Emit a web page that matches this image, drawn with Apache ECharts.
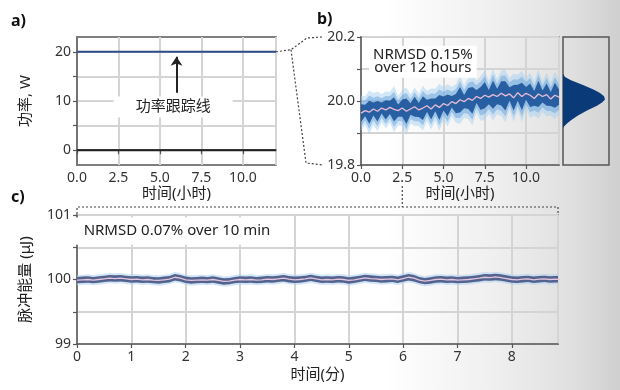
<!DOCTYPE html>
<html><head><meta charset="utf-8">
<script src="https://cdn.jsdelivr.net/npm/echarts@6/dist/echarts.min.js"></script>
<style>
html,body{margin:0;padding:0;background:#fff;}
#c{width:620px;height:390px;background:linear-gradient(to right,#ffffff 0%,#ffffff 62%,#efefef 80%,#e0e0e0 92%,#cfcfcf 100%);}
</style></head><body><div id="c"></div>
<script>
const FONT = "'Noto Sans','Noto Sans CJK SC',sans-serif";

// ---------- panel a ----------
const aTime = [0, 12];
const aPower = [20, 20];
const aBaseline = [0, 0];
const aYLabels = [0, 10, 20];
const aYTicks = [0, 5, 10, 15, 20];

// ---------- panel b (0.25 h sampling) ----------
const bStep = 0.25;
const bMean = [19.962,19.970,19.965,19.975,19.968,19.978,19.972,19.980,19.974,19.970,
  19.978,19.968,19.975,19.982,19.972,19.978,19.985,19.975,19.988,19.980,
  19.992,19.986,19.998,19.992,20.004,19.998,20.008,20.002,20.014,20.008,
  20.018,20.012,20.020,20.014,20.024,20.016,20.022,20.010,20.026,20.014,
  20.024,20.018,20.008,20.022,20.014,20.020,20.006,20.018,20.012];
const bDark = [0.028,0.018,0.036,0.02,0.032,0.017,0.03,0.021,0.038,0.019,
  0.027,0.04,0.018,0.031,0.022,0.037,0.019,0.033,0.02,0.039,
  0.022,0.034,0.018,0.03,0.04,0.021,0.033,0.042,0.02,0.036,
  0.041,0.022,0.044,0.024,0.038,0.046,0.021,0.04,0.025,0.043,
  0.02,0.037,0.023,0.041,0.019,0.035,0.022,0.039,0.024];
const bLight = [0.055,0.045,0.068,0.05,0.062,0.044,0.058,0.048,0.072,0.046,
  0.056,0.074,0.045,0.06,0.05,0.07,0.047,0.064,0.05,0.073,
  0.052,0.066,0.046,0.06,0.075,0.05,0.064,0.078,0.05,0.07,
  0.077,0.052,0.08,0.055,0.072,0.082,0.05,0.076,0.056,0.08,
  0.05,0.07,0.053,0.077,0.048,0.068,0.052,0.074,0.055];
const bYLabels = [19.8, 20.0, 20.2];
// histogram of panel b
const histValue = [20.085,20.075,20.065,20.05,20.035,20.025,20.015,20.005,19.995,19.985,19.97,19.955,19.94,19.93,19.92,19.915];
const histCount = [0,2,8,20,31,37,41,42,39,34,24,15,8,4,1,0];

// ---------- panel c (0.1 min sampling) ----------
const cStep = 0.1;
const cMean = [99.99,99.995,100.0,99.99,100.0,100.01,100.02,100.015,100.02,100.01,
  100.0,100.005,99.995,100.0,99.99,99.985,99.995,100.005,100.035,100.02,
  99.995,99.985,99.99,99.995,99.99,100.0,99.985,99.97,99.975,99.99,
  100.0,99.995,100.0,99.99,99.995,100.005,100.0,100.01,100.02,100.005,
  99.995,100.0,100.01,100.025,100.01,99.995,100.0,99.995,100.005,100.0,
  99.985,99.995,100.01,100.025,100.015,100.01,100.0,100.005,100.01,99.995,
  100.015,100.035,100.02,99.99,99.975,99.985,100.0,100.005,99.995,100.0,
  99.99,99.995,100.0,100.01,100.02,100.035,100.03,100.04,100.03,100.015,
  100.0,99.995,100.005,100.01,99.995,100.005,100.01,100.0,100.005,100.0];
const cDarkSpread = 0.05;
const cLightSpread = 0.08;
const cYLabels = [99, 100, 101];

// ---------- build ----------
const bT = bMean.map((_, i) => +(i * bStep).toFixed(3));
const cT = cMean.map((_, i) => +(i * cStep).toFixed(3));
const bMid = bDark.map((d, i) => (d + bLight[i]) / 2);
const pair = (t, arr) => arr.map((v, i) => [t[i], v]);

function band(t, mean, spread, color, xi, yi, z) {
  const sp = Array.isArray(spread) ? spread : mean.map(() => spread);
  return {
    type:'custom', xAxisIndex:xi, yAxisIndex:yi, silent:true, z:z, data:[[t[0], mean[0]]],
    renderItem:(params, api) => {
      const up = mean.map((m,i) => api.coord([t[i], m + sp[i]]));
      const lo = mean.map((m,i) => api.coord([t[i], m - sp[i]])).reverse();
      const cs = params.coordSys;
      return {type:'group',
        clipPath:{type:'rect', shape:{x:cs.x, y:cs.y, width:cs.width, height:cs.height}},
        children:[{type:'polygon', shape:{points:up.concat(lo)}, style:{fill:color}}]};
    }
  };
}

const near = (v, list) => list.some(x => Math.abs(x - v) < 1e-6);
const axisCommon = {
  axisLine:{show:true, lineStyle:{color:'#555', width:1.5}},
  axisTick:{show:true, length:4, lineStyle:{color:'#555', width:1.2}},
  splitLine:{show:true, lineStyle:{color:'#d4d4d4', width:2}},
  nameTextStyle:{fontFamily:FONT, fontSize:15, color:'#222'},
};
const lab = {fontFamily:FONT, fontSize:14, color:'#333', margin:6};
const gridStyle = {show:true, borderColor:'#555', borderWidth:1.5, backgroundColor:'transparent'};

const option = {
  animation:false,
  textStyle:{fontFamily:FONT},
  grid:[
    Object.assign({left:77, top:37, width:199, height:128}, gridStyle),
    Object.assign({left:361, top:37, width:198, height:128}, gridStyle),
    Object.assign({left:563, top:37, width:46, height:128}, gridStyle),
    Object.assign({left:77, top:215, width:481, height:129}, gridStyle)
  ],
  xAxis:[
    Object.assign({}, axisCommon, {gridIndex:0, type:'value', min:0, max:12, interval:2.5,
      name:'时间(小时)', nameLocation:'middle', nameGap:19,
      axisLabel:Object.assign({}, lab, {showMaxLabel:false, formatter:v=>v.toFixed(1)})}),
    Object.assign({}, axisCommon, {gridIndex:1, type:'value', min:0, max:12, interval:2.5,
      name:'时间(小时)', nameLocation:'middle', nameGap:19,
      axisLabel:Object.assign({}, lab, {showMaxLabel:false, formatter:v=>v.toFixed(1)})}),
    {gridIndex:2, type:'value', min:0, max:46, show:false},
    Object.assign({}, axisCommon, {gridIndex:3, type:'value', min:0, max:8.85, interval:1,
      name:'时间(分)', nameLocation:'middle', nameGap:23,
      axisLabel:Object.assign({}, lab, {showMaxLabel:false, formatter:v=>Number.isInteger(v)?String(v):''})})
  ],
  yAxis:[
    Object.assign({}, axisCommon, {gridIndex:0, type:'value', min:-3, max:23,
      name:'功率, W', nameLocation:'middle', nameGap:44,
      axisTick:Object.assign({}, axisCommon.axisTick, {customValues:aYTicks}),
      axisLabel:Object.assign({}, lab, {customValues:aYLabels})}),
    Object.assign({}, axisCommon, {gridIndex:1, type:'value', min:19.8, max:20.2, interval:0.1,
      axisLabel:Object.assign({}, lab, {formatter:v=>near(v,bYLabels)?v.toFixed(1):''})}),
    {gridIndex:2, type:'value', min:19.8, max:20.2, show:false},
    Object.assign({}, axisCommon, {gridIndex:3, type:'value', min:99, max:101, interval:0.5,
      name:'脉冲能量 (μJ)', nameLocation:'middle', nameGap:44,
      axisLabel:Object.assign({}, lab, {formatter:v=>near(v,cYLabels)?String(v):''})})
  ],
  series:[
    // panel a
    {type:'line', xAxisIndex:0, yAxisIndex:0, symbol:'none', silent:true, z:3,
     lineStyle:{color:'#222', width:2}, data:pair(aTime, aBaseline)},
    {type:'line', xAxisIndex:0, yAxisIndex:0, symbol:'none', silent:true, z:3,
     lineStyle:{color:'#2c4a8c', width:2}, data:pair(aTime, aPower),
     markLine:{silent:true, symbol:['none','arrow'], symbolSize:9, label:{show:false},
       lineStyle:{color:'#222', width:2, type:'solid'},
       data:[[{coord:[6,11.7]},{coord:[6,19.0]}]]},
     markPoint:{silent:true, symbol:'rect', symbolSize:0,
       data:[{coord:[5.8,8.8]}],
       label:{show:true, position:'inside', formatter:'功率跟踪线', fontFamily:FONT, fontSize:15, color:'#222',
         backgroundColor:'#fff', padding:[3,22]}}},
    // panel b
    band(bT, bMean, bLight, 'rgba(165,208,240,0.5)', 1, 1, 2),
    band(bT, bMean, bMid, 'rgba(90,155,215,0.45)', 1, 1, 2),
    band(bT, bMean, bDark, 'rgba(20,78,150,0.85)', 1, 1, 3),
    {type:'line', xAxisIndex:1, yAxisIndex:1, symbol:'none', silent:true, z:4,
     lineStyle:{color:'#e9bcd6', width:1.3}, data:pair(bT, bMean),
     markPoint:{silent:true, symbol:'rect', symbolSize:0, data:[{coord:[3.75,20.123]}],
       label:{show:true, position:'inside', formatter:'NRMSD 0.15%\nover 12 hours', fontFamily:FONT,
         fontSize:15, lineHeight:13, color:'#222', backgroundColor:'#fff', padding:[3,4], align:'center'}}},
    {type:'custom', xAxisIndex:2, yAxisIndex:2, silent:true, data:[[0,20]],
     renderItem:(params, api) => {
       const pts = [api.coord([0, histValue[0]])];
       histValue.forEach((v,i) => pts.push(api.coord([histCount[i], v])));
       pts.push(api.coord([0, histValue[histValue.length-1]]));
       return {type:'polygon', shape:{points:pts}, style:{fill:'#0b3a78'}};
     }},
    // panel c
    band(cT, cMean, cLightSpread, 'rgba(175,208,238,0.55)', 3, 3, 2),
    band(cT, cMean, cDarkSpread, '#51638e', 3, 3, 3),
    {type:'line', xAxisIndex:3, yAxisIndex:3, symbol:'none', silent:true, z:4,
     lineStyle:{color:'#e6c4dc', width:1.3}, data:pair(cT, cMean),
     markPoint:{silent:true, symbol:'rect', symbolSize:0, data:[{coord:[1.84,100.75]}],
       label:{show:true, position:'inside', formatter:'NRMSD 0.07% over 10 min', fontFamily:FONT,
         fontSize:15, color:'#222', backgroundColor:'#fff', padding:[6,8]}}}
  ]
};

const chart = echarts.init(document.getElementById('c'), null, {renderer:'canvas'});
chart.setOption(option);

// annotations (panel letters and zoom connectors) placed from axis positions
const P = (g, v) => chart.convertToPixel({gridIndex:g}, v);
const pA = P(0, [12, 20]);
const pB1 = P(1, [0, 20.2]);
const pB0 = P(1, [0, 19.8]);
const p25 = P(1, [2.5, 19.8]);
const pC0 = P(3, [0, 101]);
const pC1 = P(3, [8.85, 101]);
const dot = {stroke:'#444', lineWidth:1.2, lineDash:[2,2], fill:null};
const knee = [pA[0]+15, pA[1]-2];
chart.setOption({graphic:[
  {type:'text', left:11, top:13, style:{text:'a)', font:"bold 16px "+FONT, fill:'#111'}},
  {type:'text', left:317, top:11, style:{text:'b)', font:"bold 16px "+FONT, fill:'#111'}},
  {type:'text', left:11, top:189, style:{text:'c)', font:"bold 16px "+FONT, fill:'#111'}},
  {type:'polyline', silent:true, shape:{points:[pA, knee, [pB1[0]-54, pB1[1]+1], [pB1[0]-39, pB1[1]]]}, style:dot},
  {type:'polyline', silent:true, shape:{points:[knee, [pB0[0]-55, pB0[1]-2], [pB0[0]-39, pB0[1]]]}, style:dot},
  {type:'polyline', silent:true, shape:{points:[[p25[0], p25[1]+21], [p25[0], pC0[1]-8]]}, style:dot},
  {type:'polyline', silent:true, shape:{points:[[pC0[0], pC0[1]-1], [pC0[0], pC0[1]-8], [pC1[0], pC1[1]-8], [pC1[0], pC1[1]-1]]}, style:dot}
]});
</script></body></html>
